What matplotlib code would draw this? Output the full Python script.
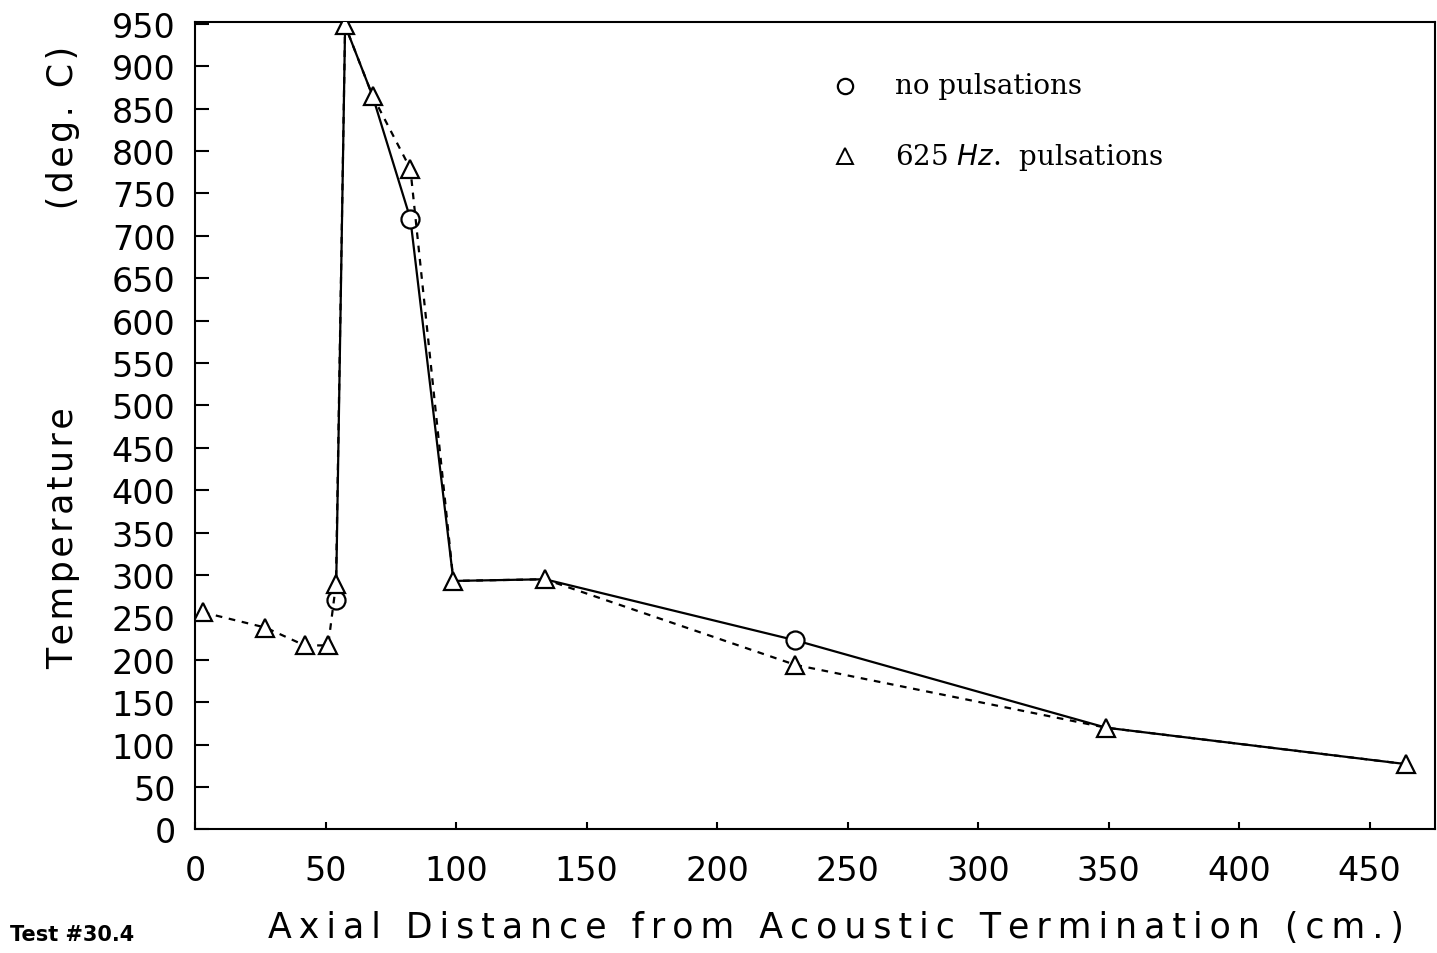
import matplotlib.pyplot as plt
import numpy as np

# 625 Hz pulsations (triangles)
x_puls = [3, 27, 42, 51, 54, 57.5, 68, 82.5, 99, 134, 230, 349, 464]
y_puls = [256, 238, 217, 217, 289, 948, 865, 779, 293, 295, 194, 120, 77]

# no pulsations (circles) - same as the triangles except where circles are shown
x_nopuls = [54, 57.5, 68, 82.5, 99, 134, 230, 349, 464]
y_nopuls = [271, 948, 865, 720, 293, 295, 223, 120, 77]
circle_idx = [0, 3, 6]

xticks = np.arange(0, 451, 50)
yticks = np.arange(0, 951, 50)


def spaced(s, sep='\u2009'):
    # wide letter spacing like the plotter lettering
    return sep.join(s)


fig = plt.figure(figsize=(14.37, 9.54), dpi=100)
ax = fig.add_axes([0.1357, 0.1295, 0.8629, 0.8464])

ax.plot(x_puls, y_puls, color='black', linestyle=(0, (3, 3)), linewidth=1.6,
        marker='^', markersize=13, markerfacecolor='white', markeredgecolor='black',
        markeredgewidth=1.6, zorder=3)
ax.plot(x_nopuls, y_nopuls, color='black', linestyle='-', linewidth=1.6,
        marker='o', markersize=13, markevery=circle_idx, markerfacecolor='white',
        markeredgecolor='black', markeredgewidth=1.6, zorder=2)

ax.set_xlim(0, 475)
ax.set_ylim(0, 952)
ax.set_xticks(xticks)
ax.set_yticks(yticks)
ax.tick_params(axis='y', direction='in', length=10, width=1.5, labelsize=24, pad=14)
ax.tick_params(axis='x', direction='in', length=5, width=1.5, labelsize=24, pad=18)
for s in ax.spines.values():
    s.set_linewidth(1.5)

ax.set_xlabel(spaced('Axial Distance from Acoustic Termination (cm.)'), fontsize=25)
ax.xaxis.set_label_coords(0.517, -0.10)
ylab = spaced('Temperature', '\u200a') + ' ' * 18 + spaced('(deg. C)', '\u200a')
ax.set_ylabel(ylab, fontsize=25)
ax.yaxis.set_label_coords(-0.093, 0.586)

# legend drawn as text like the original
ax.plot([249], [877], marker='o', markersize=11, markerfacecolor='white',
        markeredgecolor='black', markeredgewidth=1.6, linestyle='none', clip_on=False)
ax.plot([249], [794], marker='^', markersize=11, markerfacecolor='white',
        markeredgecolor='black', markeredgewidth=1.4, linestyle='none', clip_on=False)
ax.text(268, 877, 'no pulsations', fontsize=20, family='DejaVu Serif', va='center')
ax.text(268, 794, '625 $Hz$.  pulsations', fontsize=20, family='DejaVu Serif', va='center')

fig.text(0.007, 0.014, 'Test #30.4', fontsize=15, weight='bold')

fig.savefig('out.png', dpi=100)
